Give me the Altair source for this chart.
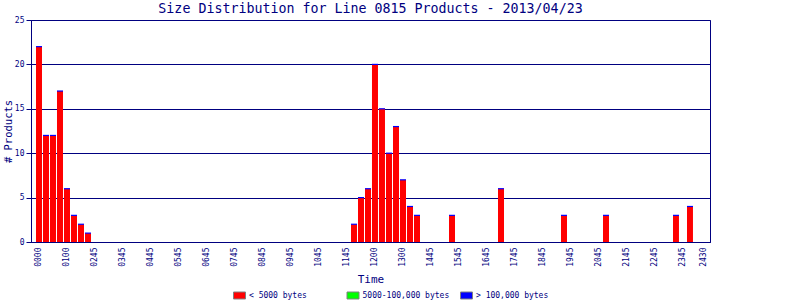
import altair as alt
import pandas as pd

NAVY = "#000080"
FONT = "DejaVu Sans Mono"

# Counts per 15-minute bin (96 bins), products < 5000 bytes
counts = [
    22, 12, 12, 17, 6, 3, 2, 1, 0, 0, 0, 0, 0, 0, 0, 0,
    0, 0, 0, 0, 0, 0, 0, 0, 0, 0, 0, 0, 0, 0, 0, 0,
    0, 0, 0, 0, 0, 0, 0, 0, 0, 0, 0, 0, 0, 2, 5, 6,
    20, 15, 10, 13, 7, 4, 3, 0, 0, 0, 0, 3, 0, 0, 0, 0,
    0, 0, 6, 0, 0, 0, 0, 0, 0, 0, 0, 3, 0, 0, 0, 0,
    0, 3, 0, 0, 0, 0, 0, 0, 0, 0, 0, 3, 0, 4, 0, 0,
]

tick_labels = ["0000", "0100", "0245", "0345", "0445", "0545", "0645", "0745",
               "0845", "0945", "1045", "1145", "1200", "1300", "1445", "1545",
               "1645", "1745", "1845", "1945", "2045", "2145", "2245", "2345", "2430"]

series = ["< 5000 bytes", "5000-100,000 bytes", "> 100,000 bytes"]
series_colors = ["#FF0000", "#00FF00", "#0000FF"]

df = pd.DataFrame({
    "bin": list(range(len(counts))),
    "count": counts,
    "series": [series[0]] * len(counts),
})
df = df[df["count"] > 0]

tick_vals = [4 * k + 0.33 for k in range(24)] + [95.3]
label_list = "[" + ",".join("'%s'" % t for t in tick_labels) + "]"
label_expr = label_list + "[round((datum.value - 0.33) / 4)]"

xscale = alt.Scale(domain=[-0.714, 96.29], nice=False, zero=False)
yscale = alt.Scale(domain=[0, 25], nice=False)

base = alt.Chart(df).transform_calculate(x2="datum.bin + 0.857")

xaxis = alt.Axis(
    values=tick_vals, labelExpr=label_expr, labelAngle=270, labelAlign="right",
    labelBaseline="middle", labelPadding=5, ticks=False, grid=False,
    labelOverlap=False, labelBound=False, labelFlush=False, labelSeparation=0,
    labelFont=FONT, labelFontSize=8, labelColor=NAVY,
    domainColor=NAVY, domainWidth=1,
    title="Time", titleFont=FONT, titleFontSize=11, titleFontWeight="normal",
    titleColor=NAVY, titleBaseline="alphabetic", titleY=40,
)
yaxis = alt.Axis(
    values=[0, 5, 10, 15, 20, 25], grid=True, gridColor=NAVY, gridWidth=1, gridOpacity=1,
    domainColor=NAVY, tickColor=NAVY, tickSize=5, labelPadding=2,
    labelFont=FONT, labelFontSize=8, labelColor=NAVY,
    title="# Products", titleFont=FONT, titleFontSize=10.5, titleFontWeight="normal",
    titleColor=NAVY, titleX=-23, titleY=111, titleBaseline="middle", titleAngle=270,
)

bars = base.mark_rect().encode(
    x=alt.X("bin:Q", scale=xscale, axis=xaxis),
    x2="x2:Q",
    y=alt.Y("count:Q", scale=yscale, axis=yaxis),
    y2=alt.datum(0),
    color=alt.Color(
        "series:N",
        scale=alt.Scale(domain=series, range=series_colors),
        legend=alt.Legend(
            title=None, orient="none", legendX=202, legendY=269,
            direction="horizontal", columns=3, gridAlign="all", columnPadding=8.5,
            symbolType="M-1,-0.583H1V0.583H-1Z", symbolSize=144,
            symbolStrokeColor="#808080", symbolStrokeWidth=1, symbolOpacity=1,
            labelFont=FONT, labelFontSize=8, labelColor=NAVY, labelOffset=3,
            padding=0,
        ),
    ),
)

tops = base.mark_rule(color="#0000FF", strokeWidth=1.2).encode(
    x=alt.X("bin:Q", scale=xscale, axis=xaxis),
    x2="x2:Q",
    y=alt.Y("count:Q", scale=yscale, axis=yaxis),
)

chart = alt.layer(bars, tops).properties(
    width=679, height=222,
    title=alt.TitleParams(
        "Size Distribution for Line 0815 Products - 2013/04/23",
        font=FONT, fontSize=13.3, fontWeight="normal", color=NAVY,
        anchor="middle", offset=1,
    ),
    autosize=alt.AutoSizeParams(type="none"),
    padding={"left": 31, "top": 20, "right": 90, "bottom": 58},
    background="white",
).configure_view(stroke=NAVY, strokeWidth=1).configure_axis(labelOverlap=False)

chart.save("out.html", embed_options={"renderer": "svg", "actions": False})
